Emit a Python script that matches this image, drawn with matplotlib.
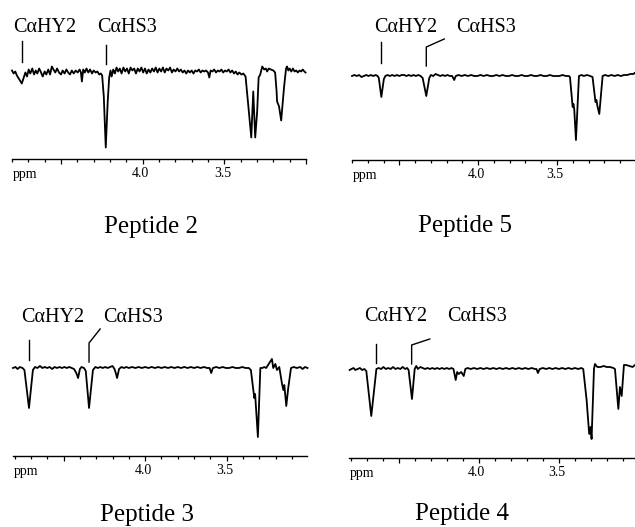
import matplotlib
matplotlib.use("Agg")
import matplotlib.pyplot as plt
from matplotlib.ticker import FixedLocator, MultipleLocator
from matplotlib.transforms import ScaledTranslation

plt.rcParams['font.family'] = ['Liberation Serif', 'DejaVu Serif']

# ---------------- data (ppm, relative intensity; baseline = 0, dips negative) ----------------
titles = ["Peptide 2", "Peptide 5", "Peptide 3", "Peptide 4"]
marker_labels = ["C\u03b1HY2", "C\u03b1HS3"]
major_ticks = [4.5, 4.0, 3.5, 3.0]
major_tick_labels = ["", "4.0", "3.5", ""]
axis_unit = "ppm"

spec_peptide2 = [
    (4.800, 1), (4.790, -2), (4.780, 0), (4.770, -4), (4.755, -8), (4.740, -12), (4.728, -6),
    (4.718, -1), (4.708, -5), (4.698, 2), (4.688, -2), (4.676, 3), (4.665, -3), (4.655, 1),
    (4.645, -2), (4.634, 3), (4.622, -1), (4.612, -5), (4.600, 0), (4.590, -3), (4.578, 2),
    (4.567, -3), (4.556, 5), (4.546, 2), (4.535, -1), (4.524, 3), (4.512, -1), (4.500, -3),
    (4.490, 1), (4.478, -2), (4.467, 2), (4.456, -1), (4.445, -3), (4.434, 1), (4.422, -2),
    (4.410, 1), (4.398, -1), (4.386, 2), (4.378, -1), (4.372, -10), (4.364, 2), (4.354, -1),
    (4.344, 3), (4.333, -1), (4.322, 2), (4.310, -2), (4.300, 1), (4.288, -1), (4.277, 0),
    (4.266, -3), (4.256, -2), (4.248, -4), (4.238, -25), (4.226, -76), (4.214, -30),
    (4.205, -6), (4.197, 1), (4.190, -5), (4.180, 2), (4.170, -2), (4.160, 4), (4.150, 0),
    (4.140, 3), (4.129, -2), (4.118, 4), (4.107, 0), (4.096, 3), (4.085, -2), (4.074, 4),
    (4.063, 1), (4.052, 3), (4.041, -2), (4.030, 3), (4.019, 0), (4.008, 4), (3.997, -1),
    (3.986, 3), (3.975, -2), (3.964, 2), (3.953, -1), (3.942, 3), (3.931, 0), (3.920, 4),
    (3.909, -1), (3.898, 3), (3.887, 0), (3.876, 4), (3.865, -1), (3.854, 3), (3.843, 1),
    (3.832, 4), (3.821, -1), (3.810, 2), (3.799, 0), (3.788, 3), (3.777, 0), (3.766, 2),
    (3.755, -1), (3.744, 1), (3.733, -2), (3.722, 1), (3.711, -1), (3.700, 1), (3.689, -2),
    (3.678, 1), (3.667, 0), (3.656, 2), (3.645, -1), (3.634, 1), (3.623, 0), (3.612, 1),
    (3.600, -1), (3.592, -6), (3.584, 1), (3.573, 0), (3.562, 2), (3.551, -1), (3.540, 1),
    (3.529, 0), (3.518, 2), (3.507, -1), (3.496, 1), (3.485, 0), (3.474, 2), (3.463, -1),
    (3.452, 1), (3.441, -2), (3.430, 0), (3.419, -3), (3.408, -1), (3.396, -3), (3.384, -2),
    (3.370, -5), (3.350, -40), (3.335, -66), (3.323, -20), (3.311, -66), (3.299, -40),
    (3.290, -6), (3.280, -3), (3.268, 5), (3.256, 2), (3.246, 3), (3.238, 0), (3.228, 3),
    (3.215, 2), (3.200, 1), (3.189, -1), (3.180, -20), (3.177, -30), (3.165, -35),
    (3.152, -49), (3.134, -15), (3.122, 3), (3.116, 5), (3.108, 1), (3.100, 3), (3.090, 0),
    (3.080, 3), (3.070, 0), (3.060, 1), (3.050, -1), (3.040, 1), (3.030, 0), (3.020, 2),
    (3.010, 0), (3.003, -1),
]

spec_peptide5 = [
    (4.800, 0), (4.785, 1), (4.770, 0), (4.755, 1), (4.740, -1), (4.725, 0), (4.710, 1),
    (4.695, 0), (4.680, 1), (4.665, 0), (4.650, 1), (4.638, 0), (4.630, -2), (4.614, -21),
    (4.598, -3), (4.588, 0), (4.575, 1), (4.560, 0), (4.545, 1), (4.530, 0), (4.515, 1),
    (4.500, 0), (4.485, 1), (4.470, 1), (4.455, 0), (4.440, 1), (4.425, 0), (4.410, 1),
    (4.395, 0), (4.380, 1), (4.365, 0), (4.352, -2), (4.329, -20), (4.310, -2), (4.300, 1),
    (4.285, 0), (4.270, 2), (4.255, 1), (4.240, 0), (4.225, 1), (4.210, 0), (4.195, 1),
    (4.180, 0), (4.165, 0), (4.152, -4), (4.142, 0), (4.125, 1), (4.105, 0), (4.085, 1),
    (4.065, 0), (4.045, 1), (4.025, 0), (4.005, 0), (3.985, 1), (3.965, 0), (3.945, 1),
    (3.925, 0), (3.905, 0), (3.885, 1), (3.865, 0), (3.845, 1), (3.825, 0), (3.805, 0),
    (3.785, 1), (3.765, 0), (3.745, 0), (3.725, 1), (3.705, 0), (3.685, 0), (3.665, 1),
    (3.645, 0), (3.625, 0), (3.605, 1), (3.585, 0), (3.565, 0), (3.545, 1), (3.525, 0),
    (3.505, 0), (3.485, 0), (3.465, 1), (3.445, 0), (3.425, 0), (3.418, -1), (3.401, -31),
    (3.396, -28), (3.391, -33), (3.380, -64), (3.361, 0), (3.345, 1), (3.330, 0), (3.310, 1),
    (3.290, 0), (3.275, -1), (3.256, -26), (3.250, -24), (3.244, -30), (3.232, -38),
    (3.211, 0), (3.195, 1), (3.175, 0), (3.155, 1), (3.135, 0), (3.115, 1), (3.095, 0),
    (3.075, 1), (3.055, 1), (3.035, 2), (3.015, 2), (3.008, 3),
]

spec_peptide3 = [
    (4.810, 0), (4.795, 1), (4.782, -1), (4.768, 1), (4.752, 0), (4.740, -2), (4.712, -40),
    (4.688, -2), (4.675, 1), (4.660, 0), (4.645, 2), (4.630, 0), (4.615, 1), (4.600, 0),
    (4.585, 1), (4.570, -1), (4.555, 1), (4.540, 0), (4.525, 1), (4.510, 0), (4.495, 1),
    (4.480, 0), (4.465, 1), (4.450, 0), (4.436, -1), (4.422, -5), (4.411, -10), (4.400, -1),
    (4.390, 1), (4.375, 0), (4.364, -3), (4.344, -40), (4.320, -2), (4.305, 1), (4.290, 0),
    (4.275, 1), (4.260, 0), (4.245, 1), (4.230, 0), (4.215, 1), (4.200, 2), (4.188, -1),
    (4.180, -5), (4.172, -10), (4.160, -1), (4.145, 1), (4.130, 0), (4.115, 1), (4.100, 0),
    (4.080, 1), (4.060, 0), (4.040, 1), (4.020, 0), (4.000, 1), (3.980, 0), (3.960, 1),
    (3.940, 0), (3.920, 1), (3.900, 0), (3.880, 1), (3.860, 0), (3.840, 1), (3.820, 0),
    (3.800, 1), (3.780, 0), (3.760, 1), (3.740, 0), (3.720, 1), (3.700, 0), (3.680, 1),
    (3.660, 0), (3.640, 1), (3.620, 0), (3.605, 0), (3.595, -5), (3.585, 0), (3.565, 1),
    (3.545, 0), (3.525, 1), (3.505, 0), (3.485, 0), (3.465, 1), (3.445, 0), (3.425, 0),
    (3.405, 1), (3.385, 0), (3.365, 0), (3.352, -2), (3.337, -22), (3.331, -30),
    (3.326, -26), (3.309, -69), (3.294, 0), (3.282, 0), (3.270, 1), (3.258, 0), (3.239, 5),
    (3.223, 9), (3.215, 0), (3.202, 4), (3.192, -2), (3.178, 1), (3.161, -16), (3.153, -22),
    (3.147, -17), (3.135, -38), (3.123, -20), (3.106, 0), (3.090, 1), (3.070, 0),
    (3.050, 1), (3.035, -1), (3.020, 1), (3.005, 0),
]

spec_peptide4 = [
    (4.806, -1), (4.795, 0), (4.782, 1), (4.770, -1), (4.756, 0), (4.742, 1), (4.728, -1),
    (4.714, 0), (4.702, -2), (4.671, -47), (4.639, 0), (4.625, 1), (4.610, 0), (4.595, 2),
    (4.580, 0), (4.565, 1), (4.550, 0), (4.535, 2), (4.520, 0), (4.505, 1), (4.490, 0),
    (4.475, 2), (4.460, 0), (4.447, 1), (4.438, -1), (4.417, -30), (4.400, 0), (4.390, 3),
    (4.380, 0), (4.365, 2), (4.350, 1), (4.335, 0), (4.320, 1), (4.305, 0), (4.290, 1),
    (4.275, 0), (4.260, 1), (4.245, 0), (4.230, 1), (4.215, 0), (4.200, 1), (4.185, 0),
    (4.170, 1), (4.158, 0), (4.144, -11), (4.135, -3), (4.125, -5), (4.110, -3),
    (4.094, -7), (4.084, 0), (4.070, 1), (4.050, 0), (4.030, 1), (4.010, 0), (3.990, 1),
    (3.970, 0), (3.950, 1), (3.930, 0), (3.910, 1), (3.890, 0), (3.870, 1), (3.850, 0),
    (3.830, 1), (3.810, 0), (3.790, 1), (3.770, 0), (3.750, 1), (3.730, 0), (3.710, 1),
    (3.690, 0), (3.670, 1), (3.650, 0), (3.640, 0), (3.631, -4), (3.620, 0), (3.600, 1),
    (3.580, 0), (3.560, 1), (3.540, 0), (3.520, 1), (3.500, 0), (3.480, 1), (3.460, 0),
    (3.440, 1), (3.420, 0), (3.400, 1), (3.380, 0), (3.360, 1), (3.348, 0), (3.327, -31),
    (3.311, -65), (3.302, -58), (3.296, -70), (3.281, 0), (3.275, 5), (3.260, 2),
    (3.240, 2), (3.220, 3), (3.202, 2), (3.180, 2), (3.160, 1), (3.150, 0), (3.129, -40),
    (3.119, -18), (3.108, -27), (3.094, 4), (3.080, 4), (3.060, 3), (3.040, 2), (3.025, 4),
]

spectra = [spec_peptide2, spec_peptide5, spec_peptide3, spec_peptide4]

# ppm of the CαHY2 / CαHS3 marker sticks (and where the CαHS3 bent stick ends)
marker_y2_ppm = [4.738, 4.614, 4.712, 4.644]
marker_s3_ppm = [4.226, 4.329, 4.344, 4.419]
marker_s3_bend_ppm = [None, 4.215, 4.276, 4.306]

# ---------------- layout (pixels in the 635 x 527 picture) ----------------
W, H = 635, 527
layout = [
    dict(left=12, right=306, xlim=(4.80, 3.0), axis_y=159, base_y=71.5,
         y2_stick=(9.5, 30.5), s3_stick=(7.5, 26.5), s3_bend=None,
         lab_x=(13, 97), lab_y=32, title=(151, 233)),
    dict(left=352, right=634, xlim=(4.80, 3.012), axis_y=160, base_y=76,
         y2_stick=(13, 34), s3_stick=(10, 29), s3_bend=37,
         lab_x=(374, 456), lab_y=32, title=(465, 232)),
    dict(left=13, right=307, xlim=(4.81, 3.008), axis_y=456, base_y=368,
         y2_stick=(8, 28), s3_stick=(6, 25), s3_bend=39,
         lab_x=(21, 103), lab_y=322, title=(147, 521)),
    dict(left=349, right=635, xlim=(4.81, 3.025), axis_y=458, base_y=369,
         y2_stick=(6, 25), s3_stick=(5, 24), s3_bend=30,
         lab_x=(364, 447), lab_y=321, title=(462, 520)),
]

fig = plt.figure(figsize=(W / 100, H / 100), dpi=100)


def fx(x):
    return x / W


def fy(y):
    return 1 - y / H


for i, (spec, L) in enumerate(zip(spectra, layout)):
    top_y = L['base_y'] - 60
    ax = fig.add_axes([fx(L['left']), fy(L['axis_y']),
                       (L['right'] - L['left']) / W, (L['axis_y'] - top_y) / H])
    ax.set_xlim(*L['xlim'])
    ax.set_ylim(-(L['axis_y'] - L['base_y']), L['base_y'] - top_y)
    ax.patch.set_alpha(0)
    for s in ('top', 'left', 'right'):
        ax.spines[s].set_visible(False)
    ax.spines['bottom'].set_linewidth(1.0)
    ax.set_yticks([])
    ax.xaxis.set_major_locator(FixedLocator(major_ticks))
    ax.set_xticklabels(major_tick_labels)
    ax.xaxis.set_minor_locator(MultipleLocator(0.1))
    ax.tick_params(axis='x', which='major', direction='out', length=3.8, width=0.9,
                   pad=1.8, labelsize=10)
    ax.tick_params(axis='x', which='minor', direction='out', length=2.3, width=0.9)
    shift = ScaledTranslation(-2 / 100, 0, fig.dpi_scale_trans)
    for lbl in ax.get_xticklabels():
        lbl.set_transform(lbl.get_transform() + shift)

    ppm = [p for p, v in spec]
    val = [v for p, v in spec]
    ax.plot(ppm, val, color='black', lw=1.3, solid_joinstyle='round', clip_on=False)

    # marker sticks
    ax.plot([marker_y2_ppm[i]] * 2, list(L['y2_stick']), color='black', lw=1.0, clip_on=False)
    if L['s3_bend'] is None:
        ax.plot([marker_s3_ppm[i]] * 2, list(L['s3_stick']), color='black', lw=1.0, clip_on=False)
    else:
        ax.plot([marker_s3_ppm[i], marker_s3_ppm[i], marker_s3_bend_ppm[i]],
                [L['s3_stick'][0], L['s3_stick'][1], L['s3_bend']],
                color='black', lw=1.0, clip_on=False)

    # texts
    fig.text(fx(L['lab_x'][0]), fy(L['lab_y']), marker_labels[0], fontsize=14.5,
             ha='left', va='baseline')
    fig.text(fx(L['lab_x'][1]), fy(L['lab_y']), marker_labels[1], fontsize=14.5,
             ha='left', va='baseline')
    fig.text(fx(L['left'] + 1), fy(L['axis_y'] + 19), axis_unit, fontsize=10,
             ha='left', va='baseline')
    fig.text(fx(L['title'][0]), fy(L['title'][1]), titles[i], fontsize=18,
             ha='center', va='baseline')

fig.savefig("out.png", dpi=100)
